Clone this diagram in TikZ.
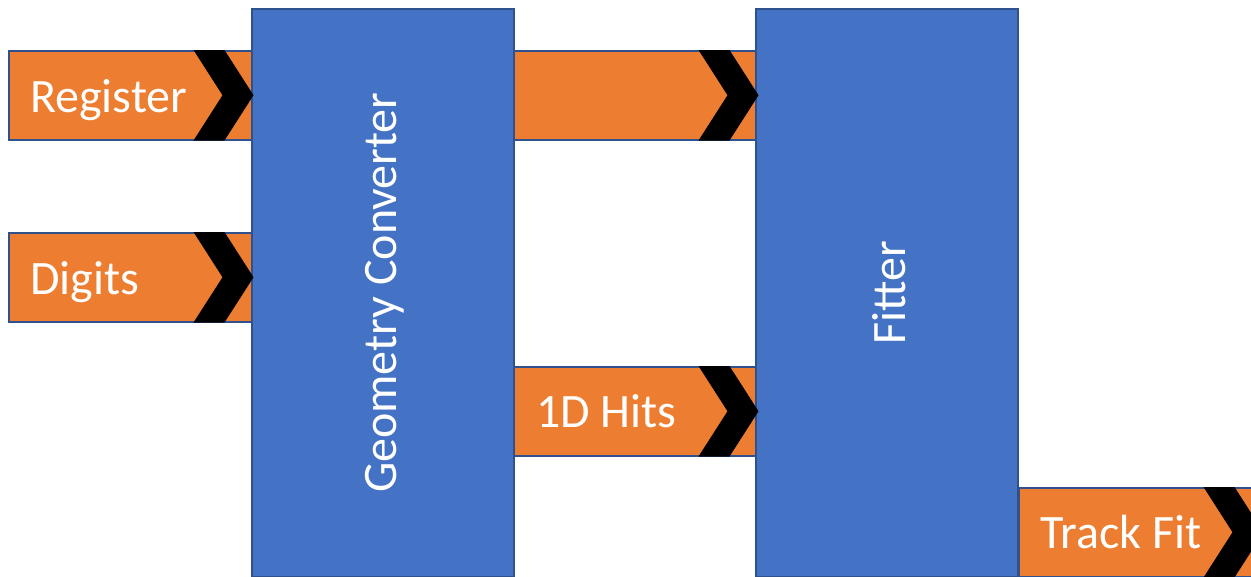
\documentclass[tikz,border=0pt]{standalone}
\usepackage{fontspec}
\setmainfont{Carlito}
\definecolor{orng}{HTML}{ED7D31}
\definecolor{blu}{HTML}{4472C4}
\definecolor{edgeblue}{HTML}{2F528F}
\tikzset{
  block/.style={draw=edgeblue, fill=blu, line width=1.5pt, anchor=north west,
    minimum width=262pt, minimum height=568pt, inner sep=0pt},
  band/.style={draw=edgeblue, fill=orng, line width=1.5pt, anchor=north west,
    minimum width=243pt, minimum height=89pt, inner sep=0pt},
  lbl/.style={text=white, font=\fontsize{48}{57}\selectfont, inner sep=0pt},
  chev/.style={fill=black}
}
\begin{document}
\begin{tikzpicture}[x=1pt,y=-1pt]
\useasboundingbox (0,0) rectangle (1251,576);
\fill[white] (0,0) rectangle (1251,576);
% orange bands
\node[band] (reg) at (8,50) {};
\node[band] (dig) at (8,232) {};
\node[band] (mid) at (513,50) {};
\node[band] (hits) at (513,366) {};
\node[band] (trk) at (1018,487) {};
% blue blocks
\node[block] (gc) at (251,8) {};
\node[block] (fit) at (755,8) {};
% chevrons
\foreach \n in {reg,dig,mid,hits,trk}{
  \fill[chev] ([xshift=-59pt]\n.north east) -- ([xshift=-28pt]\n.north east)
    -- ([xshift=1pt]\n.east) -- ([xshift=-28pt]\n.south east)
    -- ([xshift=-59pt]\n.south east) -- ([xshift=-30pt]\n.east) -- cycle;
}
% labels
\path (reg.west) ++(22,17) node[lbl, anchor=base west] (tReg) {Register};
\path (dig.west) ++(22,17) node[lbl, anchor=base west] (tDig) {Digits};
\path (hits.west) ++(23,16) node[lbl, anchor=base west] (tHits) {1D Hits};
\path (trk.west) ++(22,16) node[lbl, anchor=base west] (tTrk) {Track Fit};
\node[lbl, rotate=90] (tGc) at ([xshift=2pt]gc.center) {Geometry Converter};
\node[lbl, rotate=90] (tFit) at ([xshift=2pt]fit.center) {Fitter};
\end{tikzpicture}
\end{document}
